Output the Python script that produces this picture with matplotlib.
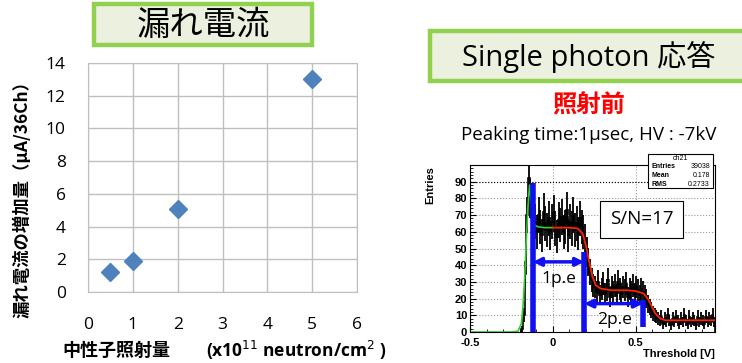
import numpy as np
import matplotlib.pyplot as plt
from matplotlib.patches import Rectangle

JP = ["Noto Sans CJK JP", "DejaVu Sans"]
plt.rcParams["font.family"] = JP

# left panel: leakage current vs. neutron fluence
FLUENCE = [0.5, 1, 2, 5]
LEAK_CURRENT = [1.2, 1.9, 5.1, 13.0]

# right panel: threshold scan histogram (bins of 0.01 V starting at -0.2 V)
HIST_START = -0.2
HIST_WIDTH = 0.01
HIST_COUNTS = [
    0, 2, 10, 35, 70, 92, 80, 68, 64,
    66, 60, 70, 63, 58, 72, 65, 61, 68, 59, 66, 71, 62, 57, 67, 64, 69, 60,
    63, 73, 58, 66, 62, 70, 61, 65, 59, 68, 63,
    60, 55, 48, 42, 36, 31, 28,
    27, 24, 30, 22, 26, 29, 23, 25, 31, 21, 27, 24, 28, 22, 30, 26, 23, 27,
    25, 29, 21, 26, 24, 28, 23, 27, 25, 22, 26, 24,
    22, 20, 17, 15, 13, 11, 10, 9, 8,
    7, 9, 5, 8, 6, 10, 7, 4, 8, 6, 9, 7, 5, 8, 6, 10, 7, 5, 9, 6, 8, 7, 4,
    9, 6, 8, 7, 5, 9, 6, 8, 7, 10, 6,
]

# fit curves
GREEN_X = [-0.5, -0.25, -0.21, -0.19, -0.18, -0.17, -0.16, -0.15, -0.14,
           -0.13, -0.12, -0.11, -0.09, -0.05, 0.0]
GREEN_Y = [0, 0, 0.5, 5, 15, 32, 55, 75, 88, 78, 68, 64, 63, 62.5, 62.5]
RED_X = [0.0, 0.1, 0.15, 0.18, 0.2, 0.22, 0.24, 0.26, 0.29, 0.35, 0.45,
         0.5, 0.55, 0.58, 0.6, 0.62, 0.65, 0.68, 0.75, 0.98]
RED_Y = [62.5, 62.5, 62, 59, 52, 42, 33, 28, 26, 25, 25, 24.5, 23, 19, 15,
         11, 8, 7, 7, 7]

# p.e. markers
PE_LINES = [(-0.12, 0, 89), (0.19, 0, 48), (0.545, 3, 19)]
PE_ARROWS = [(-0.12, 0.19, 42, "1p.e", 0.035, 32), (0.19, 0.545, 17, "2p.e", 0.375, 7)]

W, H = 742, 363
fig = plt.figure(figsize=(W / 100, H / 100), dpi=100)


def fbox(x0, y0, x1, y1):
    # pixel box -> figure rectangle
    fig.patches.append(Rectangle((x0 / W, 1 - y1 / H), (x1 - x0) / W, (y1 - y0) / H,
                                 transform=fig.transFigure, facecolor="#ebf1de",
                                 edgecolor="#92d050", linewidth=3.2))


# title boxes
fbox(94, 4, 312, 45)
fig.text(203 / W, 1 - 25 / H, "漏れ電流", ha="center", va="center", fontsize=24)
fbox(430, 31, 760, 81)
fig.text(589 / W, 1 - 57 / H, "Single photon 応答", ha="center", va="center",
         fontsize=21, family=["Open Sans", "Noto Sans CJK JP"])

# ---- left: leakage current
ax = fig.add_axes([88 / W, 1 - 292 / H, 269 / W, 229 / H])
ax.plot(FLUENCE, LEAK_CURRENT, "D", color="#4f81bd", markersize=9, markeredgecolor="#4f81bd")
ax.set_xlim(0, 6)
ax.set_ylim(0, 14)
ax.set_xticks(range(0, 7))
ax.set_yticks(range(0, 15, 2))
ax.grid(color="#bfbfbf", linewidth=1)
for s in ax.spines.values():
    s.set_color("#bfbfbf")
ax.tick_params(length=0, labelsize=12.5)
ax.tick_params(axis="x", pad=18)
ax.tick_params(axis="y", pad=16)
for lab in ax.get_xticklabels() + ax.get_yticklabels():
    lab.set_family(["Open Sans"])
fig.text(22 / W, 1 - 195 / H, "漏れ電流の増加量（μA/36Ch）", rotation=90,
         ha="center", va="center", fontsize=12.5, fontweight="bold")
fig.text(62 / W, 1 - 350 / H, "中性子照射量", ha="left", va="center",
         fontsize=13, fontweight="bold")
fig.text(206 / W, 1 - 350 / H, r"(x10$^{11}$ neutron/cm$^{2}$ )", ha="left",
         va="center", fontsize=12.5, fontweight="bold", family=["Open Sans"])

# ---- right: threshold scan
fig.text(589 / W, 1 - 106 / H, "照射前", ha="center", va="center", fontsize=17.5,
         fontweight="bold", color="#ff0000")
fig.text(589 / W, 1 - 135 / H, "Peaking time:1μsec, HV : -7kV", ha="center",
         va="center", fontsize=13.5, family=["Open Sans", "DejaVu Sans"])

bx = fig.add_axes([470 / W, 1 - 332 / H, 245 / W, 167 / H])
counts = np.array(HIST_COUNTS, dtype=float)
edges = HIST_START + HIST_WIDTH * np.arange(len(counts) + 1)
centers = 0.5 * (edges[:-1] + edges[1:])
bx.stairs(counts, edges, color="black", linewidth=1.2)
bx.vlines(centers, counts - 1.3 * np.sqrt(counts), counts + 1.3 * np.sqrt(counts),
          color="black", linewidth=1.3)
bx.plot(GREEN_X, GREEN_Y, color="#33cc33", linewidth=1.2)
bx.plot(RED_X, RED_Y, color="#ff2200", linewidth=1.3)
for x, y0, y1 in PE_LINES:
    bx.vlines(x, y0, y1, color="#1010f0", linewidth=4)
for x0, x1, y, label, tx, ty in PE_ARROWS:
    bx.annotate("", xy=(x0, y), xytext=(x1, y),
                arrowprops=dict(arrowstyle="<|-|>", color="#1010f0", lw=2.5,
                                mutation_scale=12, shrinkA=0, shrinkB=0))
    bx.text(tx, ty, label, ha="center", va="center", fontsize=12.5,
            family=["Open Sans"])
bx.set_xlim(-0.5, 0.98)
bx.set_ylim(0, 100)
bx.set_xticks([-0.5, 0, 0.5])
bx.set_xticklabels(["-0.5", "0", "0.5"])
bx.set_yticks(range(0, 91, 10))
bx.set_yticks(range(0, 100, 2), minor=True)
bx.set_xticks(np.arange(-0.5, 0.98, 0.1), minor=True)
bx.tick_params(direction="in", length=4, labelsize=8, pad=2)
bx.tick_params(axis="x", pad=4.5)
bx.tick_params(which="minor", direction="in", length=2)
for lab in bx.get_xticklabels() + bx.get_yticklabels():
    lab.set_fontweight("bold")
    lab.set_family(["Liberation Sans"])
bx.grid(color="#999999", linestyle=":", linewidth=0.8)
bx.axhline(90, color="black", linestyle=":", linewidth=0.8)
bx.set_ylabel("Entries", fontsize=8, fontweight="bold", family=["Liberation Sans"],
              labelpad=4)
bx.yaxis.set_label_coords(-0.14, 0.88)
fig.text(715 / W, 1 - 354 / H, "Threshold [V]", ha="right", va="center",
         fontsize=8, fontweight="bold", family=["Liberation Sans"])

# S/N box
bx.text(0.70, 0.675, "S/N=17", transform=bx.transAxes, ha="center", va="center",
        fontsize=13.5, family=["Open Sans"],
        bbox=dict(boxstyle="square,pad=0.5", facecolor="white", edgecolor="black", lw=0.8))

# stats box
sx0, sy0, sx1, sy1 = 648, 154, 713, 188
fig.patches.append(Rectangle((sx0 / W, 1 - sy1 / H), (sx1 - sx0) / W, (sy1 - sy0) / H,
                             transform=fig.transFigure, facecolor="white",
                             edgecolor="black", linewidth=0.8, zorder=5))
fig.text((sx0 + sx1) / 2 / W, 1 - 158.5 / H, "ch21", ha="center", va="center",
         fontsize=5, family=["Liberation Sans"], zorder=6)
stats = [("Entries", "39038"), ("Mean", "0.178"), ("RMS", "0.2733")]
for i, (k, v) in enumerate(stats):
    yy = 1 - (167 + i * 8.5) / H
    fig.text((sx0 + 3) / W, yy, k, ha="left", va="center", fontsize=5,
             fontweight="bold", family=["Liberation Sans"], zorder=6)
    fig.text((sx1 - 3) / W, yy, v, ha="right", va="center", fontsize=5,
             family=["Liberation Sans"], zorder=6)

fig.savefig("out.png", dpi=100)
